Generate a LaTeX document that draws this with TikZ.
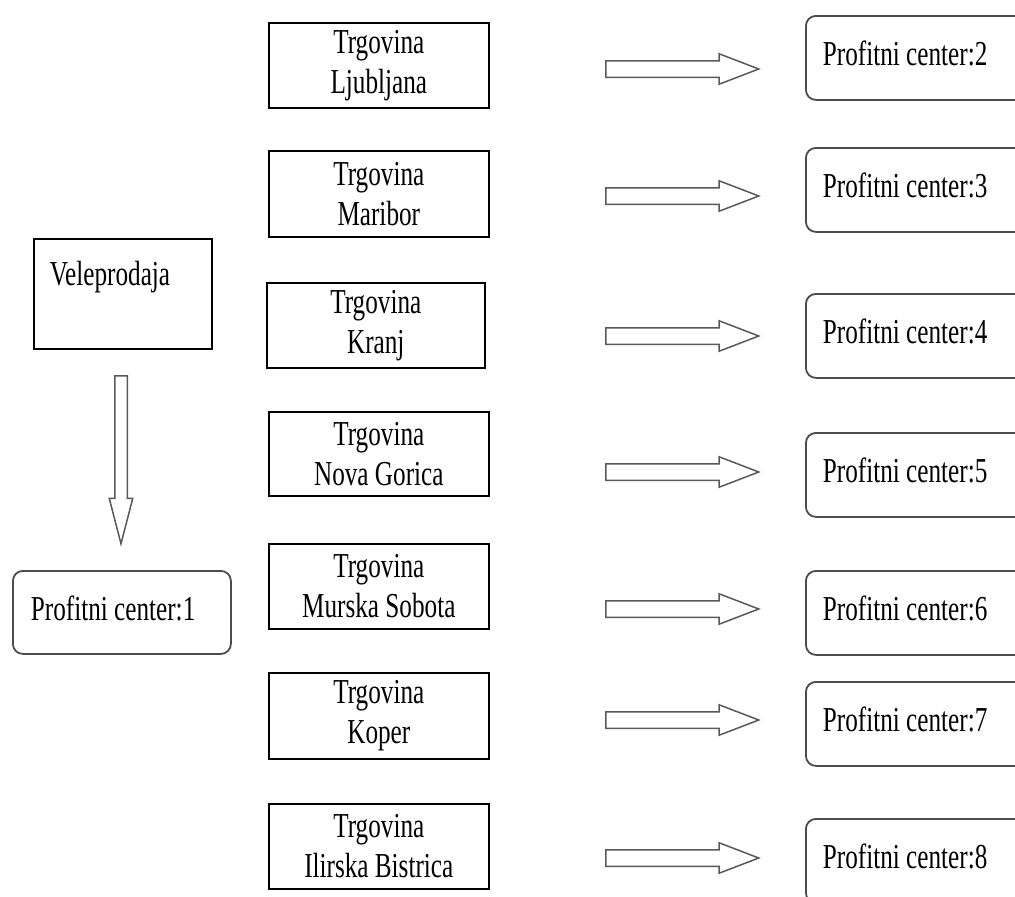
\documentclass[tikz,border=0pt]{standalone}
\usepackage{fontspec}
\setmainfont{Liberation Serif}[FakeStretch=0.72]
\usetikzlibrary{shapes.arrows}

\begin{document}
\begin{tikzpicture}[
  x=1pt, y=-1pt,
  font=\fontsize{35}{40}\selectfont,
  shop/.style={draw, line width=1.6pt, anchor=north west, align=center, minimum width=220pt, minimum height=85pt, inner sep=0pt},
  centre/.style={draw=black!70, line width=1.8pt, rounded corners=10pt, anchor=north west, align=flush left, inner xsep=17pt, inner ysep=0pt, text width=206pt, text height=50pt, text depth=34pt},
  blockarr/.style={draw=black!65, line width=1.5pt, single arrow, anchor=tail, single arrow head extend=7pt, single arrow tip angle=42, inner xsep=0pt, inner ysep=7.5pt, minimum height=153pt}
]
\clip (0,0) rectangle (1015,897);

% wholesale on the left
\node[draw, line width=1.6pt, anchor=north west, inner xsep=16pt, inner ysep=0pt, text height=47pt, text depth=63pt] (vele) at (33,238) {\makebox[146pt][l]{Veleprodaja}};
\node[centre, text width=182pt, text height=50pt, text depth=33pt, inner xsep=18pt] (pc1) at (12,570) {Profitni center:1};
\node[draw=black!65, line width=1.5pt, single arrow, anchor=tail, shape border rotate=270, single arrow head extend=5.5pt, single arrow tip angle=29, inner xsep=5.5pt, inner ysep=0pt, minimum height=168pt] (down) at (121,375) {};

% shops
\node[shop] (t2) at (268,22) {Trgovina\\Ljubljana};
\node[shop, minimum height=86pt] (t3) at (268,150) {Trgovina\\Maribor};
\node[shop, minimum width=218pt] (t4) at (266,282) {Trgovina\\Kranj};
\node[shop, minimum height=84pt] (t5) at (268,411) {Trgovina\\Nova Gorica};
\node[shop] (t6) at (268,543) {Trgovina\\Murska Sobota};
\node[shop, minimum height=86pt] (t7) at (268,672) {Trgovina\\Koper};
\node[shop] (t8) at (268,803) {Trgovina\\Ilirska Bistrica};

% profit centres
\node[centre, minimum width=240pt] (pc2) at (805,15) {Profitni center:2};
\node[centre, minimum width=240pt] (pc3) at (805,147) {Profitni center:3};
\node[centre, minimum width=240pt] (pc4) at (805,293) {Profitni center:4};
\node[centre, minimum width=240pt] (pc5) at (805,432) {Profitni center:5};
\node[centre, minimum width=240pt] (pc6) at (805,570) {Profitni center:6};
\node[centre, minimum width=240pt] (pc7) at (805,681) {Profitni center:7};
\node[centre, minimum width=240pt] (pc8) at (805,818) {Profitni center:8};

% block arrows
\node[blockarr] (a2) at (605,69) {};
\node[blockarr] (a3) at (605,196) {};
\node[blockarr] (a4) at (605,336) {};
\node[blockarr] (a5) at (605,472) {};
\node[blockarr] (a6) at (605,609) {};
\node[blockarr] (a7) at (605,720) {};
\node[blockarr] (a8) at (605,858) {};
\end{tikzpicture}
\end{document}
